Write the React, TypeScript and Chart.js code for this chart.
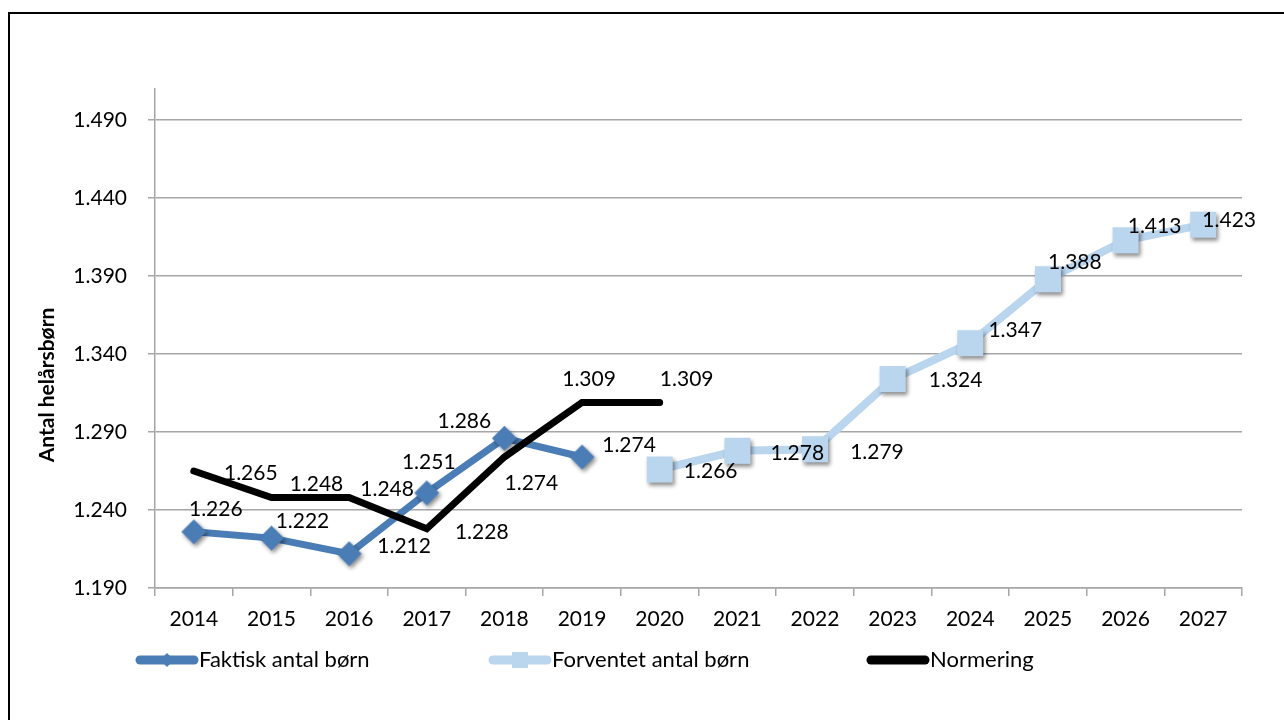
import React, { useEffect, useRef } from 'react';
import { Chart, registerables } from 'chart.js';

Chart.register(...registerables);

const years = ['2014', '2015', '2016', '2017', '2018', '2019', '2020', '2021', '2022', '2023', '2024', '2025', '2026', '2027'];
const faktisk = [1226, 1222, 1212, 1251, 1286, 1274, null, null, null, null, null, null, null, null];
const forventet = [null, null, null, null, null, null, 1266, 1278, 1279, 1324, 1347, 1388, 1413, 1423];
const normering = [1265, 1248, 1248, 1228, 1274, 1309, 1309, null, null, null, null, null, null, null];
const yTickValues = [1190, 1240, 1290, 1340, 1390, 1440, 1490];
const yMin = 1190;
const yMax = 1510;
const seriesNames = ['Faktisk antal børn', 'Forventet antal børn', 'Normering'];
const yTitle = 'Antal helårsbørn';

// label offsets (px) relative to each point, in the order of non-null values
const faktiskLabelOffsets = [[22, -23], [31, -17], [55, -7], [2, -31], [-40, -17], [47, -12]];
const forventetLabelOffsets = [[51, 2], [60, 2], [62, 3], [63, 1], [45, -13], [27, -17], [29, -14], [26, -4]];
const normeringLabelOffsets = [[57, 2], [45, -13], [38, -8], [55, 3], [27, 26], [7, -23], [27, -23]];

const C_FAKTISK = '#4a7db5';
const C_FORVENTET = '#bad5ee';
const C_NORM = '#000000';
const GRID = '#a6a6a6';
const FONT = 'Lato, "Open Sans", sans-serif';

const fmt = (v: number) => `${Math.floor(v / 1000)}.${String(Math.round(v) % 1000).padStart(3, '0')}`;

function makeMarker(kind: 'diamond' | 'square', color: string, half: number): HTMLCanvasElement {
  const size = Math.ceil(half * 2 + 16);
  const c = document.createElement('canvas');
  c.width = size;
  c.height = size;
  const g = c.getContext('2d')!;
  const m = size / 2;
  g.shadowColor = 'rgba(0,0,0,0.45)';
  g.shadowBlur = 4;
  g.shadowOffsetX = 2;
  g.shadowOffsetY = 2.5;
  g.fillStyle = color;
  g.beginPath();
  if (kind === 'diamond') {
    g.moveTo(m, m - half);
    g.lineTo(m + half, m);
    g.lineTo(m, m + half);
    g.lineTo(m - half, m);
  } else {
    g.rect(m - half, m - half, half * 2, half * 2);
  }
  g.closePath();
  g.fill();
  return c;
}

const labelPlugin = {
  id: 'valueLabels',
  afterDatasetsDraw(chart: any) {
    const ctx = chart.ctx;
    const offsets = [faktiskLabelOffsets, forventetLabelOffsets, normeringLabelOffsets];
    ctx.save();
    ctx.font = `21px ${FONT}`;
    ctx.fillStyle = '#000';
    ctx.textAlign = 'center';
    ctx.textBaseline = 'middle';
    chart.data.datasets.forEach((ds: any, di: number) => {
      const meta = chart.getDatasetMeta(di);
      let k = 0;
      ds.data.forEach((v: number | null, i: number) => {
        if (v == null) return;
        const el = meta.data[i];
        const off = offsets[di][k] || [0, -20];
        k++;
        ctx.fillText(fmt(v), el.x + off[0], el.y + off[1]);
      });
    });
    ctx.restore();
  },
};

const legendPlugin = {
  id: 'customLegend',
  afterDraw(chart: any) {
    const ctx = chart.ctx;
    const y = 660;
    const items = [
      { x: 140, color: C_FAKTISK, marker: 'diamond', name: seriesNames[0] },
      { x: 493, color: C_FORVENTET, marker: 'square', name: seriesNames[1] },
      { x: 871, color: C_NORM, marker: 'none', name: seriesNames[2] },
    ];
    ctx.save();
    items.forEach((it) => {
      ctx.strokeStyle = it.color;
      ctx.lineWidth = 9;
      ctx.lineCap = 'round';
      ctx.beginPath();
      ctx.moveTo(it.x, y);
      ctx.lineTo(it.x + 54, y);
      ctx.stroke();
      const cx = it.x + 27;
      ctx.fillStyle = it.color;
      if (it.marker === 'diamond') {
        ctx.beginPath();
        ctx.moveTo(cx, y - 7);
        ctx.lineTo(cx + 7, y);
        ctx.lineTo(cx, y + 7);
        ctx.lineTo(cx - 7, y);
        ctx.closePath();
        ctx.fill();
      } else if (it.marker === 'square') {
        ctx.fillRect(cx - 8, y - 8, 16, 16);
      }
      ctx.fillStyle = '#000';
      ctx.font = `22px ${FONT}`;
      ctx.textAlign = 'left';
      ctx.textBaseline = 'middle';
      ctx.fillText(it.name, it.x + 59, y);
    });
    // y-axis title
    ctx.translate(47, 385);
    ctx.rotate(-Math.PI / 2);
    ctx.font = `bold 21px ${FONT}`;
    ctx.textAlign = 'center';
    ctx.textBaseline = 'middle';
    ctx.fillStyle = '#000';
    ctx.fillText(yTitle, 0, 0);
    ctx.restore();
  },
};

export default function App() {
  const canvasRef = useRef<HTMLCanvasElement | null>(null);

  useEffect(() => {
    if (!canvasRef.current) return;
    const diamond = makeMarker('diamond', C_FAKTISK, 12.5);
    const square = makeMarker('square', C_FORVENTET, 13);
    const chart = new Chart(canvasRef.current, {
      type: 'line',
      data: {
        labels: years,
        datasets: [
          {
            label: seriesNames[0],
            data: faktisk,
            borderColor: C_FAKTISK,
            backgroundColor: C_FAKTISK,
            borderWidth: 7,
            pointStyle: diamond,
            pointRadius: 12,
            pointBorderWidth: 0,
            pointBackgroundColor: C_FAKTISK,
            tension: 0,
            spanGaps: false,
            order: 2,
          },
          {
            label: seriesNames[1],
            data: forventet,
            borderColor: C_FORVENTET,
            backgroundColor: C_FORVENTET,
            borderWidth: 8,
            pointStyle: square,
            pointRadius: 13,
            pointBorderWidth: 0,
            pointBackgroundColor: C_FORVENTET,
            tension: 0,
            spanGaps: false,
            order: 1,
          },
          {
            label: seriesNames[2],
            data: normering,
            borderColor: C_NORM,
            backgroundColor: C_NORM,
            borderWidth: 7,
            borderCapStyle: 'round',
            pointRadius: 0,
            tension: 0,
            spanGaps: false,
            order: 0,
          },
        ],
      } as any,
      options: {
        animation: false,
        responsive: false,
        maintainAspectRatio: false,
        layout: { padding: { left: 0, top: 89, right: 42, bottom: 82 } },
        plugins: { legend: { display: false }, tooltip: { enabled: false }, title: { display: false } },
        scales: {
          x: {
            type: 'category',
            offset: true,
            grid: { offset: true, drawOnChartArea: false, drawTicks: true, tickLength: 8, color: GRID, lineWidth: 1.5 },
            border: { color: GRID, width: 1.5 },
            ticks: { font: { family: FONT, size: 21 }, color: '#000', padding: 11, maxRotation: 0, autoSkip: false },
            afterFit: (s: any) => { s.height = 50; },
          },
          y: {
            min: yMin,
            max: yMax,
            afterBuildTicks: (s: any) => { s.ticks = yTickValues.map((v) => ({ value: v })); },
            grid: { color: GRID, tickLength: 7, lineWidth: 1.5 },
            border: { color: GRID, width: 1.5 },
            ticks: { font: { family: FONT, size: 21 }, color: '#000', padding: 21, callback: (v: any) => fmt(Number(v)) },
            afterFit: (s: any) => { s.width = 155; },
          },
        },
      } as any,
      plugins: [labelPlugin, legendPlugin],
    });
    return () => chart.destroy();
  }, []);

  return (
    <div style={{ position: 'fixed', left: 0, top: 0, width: 1284, height: 720, overflow: 'hidden', background: '#fff' }}>
      <div style={{ position: 'absolute', left: 8, top: 12, width: 1400, height: 800, border: '2px solid #000', boxSizing: 'border-box' }} />
      <canvas ref={canvasRef} width={1284} height={720} style={{ position: 'absolute', left: 0, top: 0, width: 1284, height: 720 }} />
    </div>
  );
}
